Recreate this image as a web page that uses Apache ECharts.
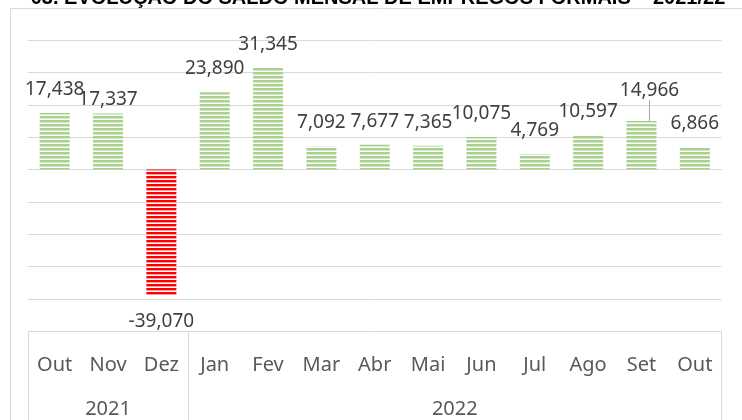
<!DOCTYPE html>
<html>
<head>
<meta charset="utf-8">
<script src="https://cdn.jsdelivr.net/npm/echarts@6/dist/echarts.min.js"></script>
<style>
  html, body { margin: 0; padding: 0; background: #fff; }
  #chart { width: 742px; height: 420px; }
</style>
</head>
<body>
<div id="chart"></div>
<script>
// dados
const months = ['Out', 'Nov', 'Dez', 'Jan', 'Fev', 'Mar', 'Abr', 'Mai', 'Jun', 'Jul', 'Ago', 'Set', 'Out'];
const saldo = [17438, 17337, -39070, 23890, 31345, 7092, 7677, 7365, 10075, 4769, 10597, 14966, 6866];
const years = ['2021', '2022'];
const monthsPerYear = [3, 10];
const yTicks = [-50000, -40000, -30000, -20000, -10000, 0, 10000, 20000, 30000, 40000];

const FONT = '"Noto Sans", "Open Sans", sans-serif';
const GRID_COLOR = '#d9d9d9';

// textura listrada (como o padrão do Excel)
function stripes(color, light) {
    const c = document.createElement('canvas');
    c.width = 4;
    c.height = 4;
    const ctx = c.getContext('2d');
    ctx.fillStyle = '#ffffff';
    ctx.fillRect(0, 0, 4, 4);
    ctx.fillStyle = color;
    ctx.fillRect(0, 0, 4, 2);
    ctx.fillStyle = light;
    ctx.fillRect(0, 2, 4, 1);
    return c;
}
const greenFill = { image: stripes('#a9d18e', '#d3e8c4'), repeat: 'repeat' };
const redFill = { image: stripes('#ff0000', '#ff9a9a'), repeat: 'repeat' };

// posições das divisões e rótulos dos anos no eixo
const yearEdges = [-0.5];
const yearCenters = [];
let acc = 0;
monthsPerYear.forEach(function (n) {
    yearCenters.push(acc + (n - 1) / 2);
    acc += n;
    yearEdges.push(acc - 0.5);
});

const barData = saldo.map(function (v, i) {
    const item = { value: v, itemStyle: { color: v < 0 ? redFill : greenFill } };
    if (v < 0) item.label = { position: 'bottom', distance: 16 };
    if (i === 1) item.label = { distance: 4 };
    if (i === 11) {
        item.label = { distance: 5 };
        item.labelLine = { show: true };
    }
    return item;
});

const chart = echarts.init(document.getElementById('chart'));

const option = {
    backgroundColor: '#ffffff',
    animation: false,
    graphic: [
        {
            type: 'rect',
            z: -10,
            shape: { x: 10.5, y: 8.5, width: 800, height: 500 },
            style: { fill: 'none', stroke: GRID_COLOR, lineWidth: 1 }
        },
        {
            type: 'text',
            x: 378,
            y: -12,
            style: {
                text: '03. EVOLUÇÃO DO SALDO MENSAL DE EMPREGOS FORMAIS – 2021/22',
                font: 'bold 20px "Liberation Sans", Arial, sans-serif',
                fill: '#000000',
                textAlign: 'center',
                textVerticalAlign: 'top'
            }
        }
    ],
    grid: {
        left: 28,
        right: 20.5,
        top: 40,
        bottom: 88.5,
        containLabel: false,
        outerBoundsMode: 'none'
    },
    xAxis: [
        {
            type: 'category',
            data: months,
            axisLine: { show: true, lineStyle: { color: GRID_COLOR, width: 1 } },
            axisTick: { show: false },
            axisLabel: {
                margin: 24,
                color: '#595959',
                fontSize: 20,
                fontFamily: FONT,
                interval: 0
            }
        },
        {
            type: 'value',
            min: -0.5,
            max: 12.5,
            position: 'bottom',
            axisLine: { show: false },
            splitLine: { show: false },
            axisTick: {
                show: true,
                customValues: yearEdges,
                length: 92,
                lineStyle: { color: GRID_COLOR, width: 1 }
            },
            axisLabel: {
                customValues: yearCenters,
                margin: 68,
                color: '#595959',
                fontSize: 20,
                fontFamily: FONT,
                formatter: function (v) {
                    const idx = yearCenters.indexOf(v);
                    return idx >= 0 ? years[idx] : '';
                }
            }
        }
    ],
    yAxis: {
        type: 'value',
        min: yTicks[0],
        max: yTicks[yTicks.length - 1],
        interval: 10000,
        axisLabel: { show: false },
        axisLine: { show: false },
        axisTick: { show: false },
        splitLine: { lineStyle: { color: GRID_COLOR, width: 1 } }
    },
    series: [
        {
            type: 'bar',
            data: barData,
            barWidth: 30,
            label: {
                show: true,
                position: 'top',
                distance: 14,
                color: '#404040',
                fontSize: 19,
                fontFamily: FONT,
                formatter: function (p) {
                    return p.value.toLocaleString('en-US');
                }
            },
            labelLine: {
                show: false,
                lineStyle: { color: '#a6a6a6', width: 1 }
            },
            labelLayout: function (params) {
                if (params.dataIndex === 11) {
                    return { dx: 8, dy: -16 };
                }
            }
        }
    ]
};

chart.setOption(option);
</script>
</body>
</html>
